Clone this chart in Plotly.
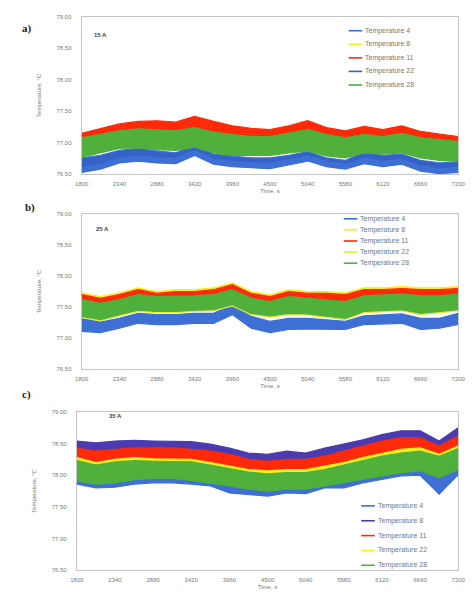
import plotly.graph_objects as go

# time axis (s) – 21 reading positions
time_s = [1800 + 270 * i for i in range(21)]
x_ticks = [1800, 2340, 2880, 3420, 3960, 4500, 5040, 5580, 6120, 6660, 7200]
y_ticks = [76.5, 77.0, 77.5, 78.0, 78.5, 79.0]
series_names = ["Temperature 4", "Temperature 8", "Temperature 11", "Temperature 22", "Temperature 28"]
panel_labels = ["a)", "b)", "c)"]
current_labels = ["15 A", "25 A", "35 A"]

# ---------- panel a (upper / lower envelopes of each sensor) ----------
a_t4_hi = [76.76, 76.80, 76.88, 76.91, 76.87, 76.84, 76.97, 76.82, 76.79, 76.76, 76.76, 76.80, 76.86, 76.76, 76.72, 76.86, 76.80, 76.82, 76.72, 76.68, 76.70]
a_t4_lo = [76.53, 76.58, 76.68, 76.71, 76.68, 76.67, 76.80, 76.66, 76.62, 76.60, 76.59, 76.65, 76.71, 76.62, 76.58, 76.67, 76.62, 76.66, 76.55, 76.51, 76.53]
a_t22_hi = [76.74, 76.78, 76.86, 76.89, 76.85, 76.82, 76.95, 76.80, 76.77, 76.74, 76.74, 76.78, 76.84, 76.74, 76.70, 76.84, 76.78, 76.80, 76.70, 76.66, 76.68]
a_t22_lo = [76.63, 76.68, 76.78, 76.81, 76.78, 76.77, 76.90, 76.76, 76.72, 76.70, 76.69, 76.75, 76.81, 76.72, 76.68, 76.77, 76.72, 76.76, 76.65, 76.61, 76.63]
a_t8_hi = [77.04, 77.10, 77.15, 77.18, 77.17, 77.15, 77.20, 77.13, 77.09, 77.06, 77.06, 77.11, 77.17, 77.09, 77.04, 77.09, 77.06, 77.11, 77.04, 77.01, 76.98]
a_t8_lo = [76.79, 76.86, 76.93, 76.94, 76.91, 76.90, 76.95, 76.86, 76.82, 76.82, 76.82, 76.86, 76.89, 76.81, 76.78, 76.86, 76.84, 76.86, 76.78, 76.74, 76.73]
a_t11_hi = [77.15, 77.23, 77.30, 77.34, 77.35, 77.33, 77.42, 77.34, 77.27, 77.23, 77.21, 77.27, 77.35, 77.24, 77.19, 77.26, 77.21, 77.27, 77.18, 77.14, 77.10]
a_t11_lo = [77.02, 77.08, 77.13, 77.16, 77.15, 77.13, 77.18, 77.11, 77.07, 77.04, 77.04, 77.09, 77.15, 77.07, 77.02, 77.07, 77.04, 77.09, 77.02, 76.99, 76.96]
a_t28_hi = [77.08, 77.14, 77.19, 77.22, 77.21, 77.19, 77.24, 77.17, 77.13, 77.10, 77.10, 77.15, 77.21, 77.13, 77.08, 77.13, 77.10, 77.15, 77.08, 77.05, 77.02]
a_t28_lo = [76.77, 76.84, 76.91, 76.92, 76.89, 76.88, 76.93, 76.84, 76.80, 76.80, 76.80, 76.84, 76.87, 76.79, 76.76, 76.84, 76.82, 76.84, 76.76, 76.72, 76.71]

# ---------- panel b ----------
b_t4_hi = [77.32, 77.26, 77.32, 77.40, 77.38, 77.38, 77.40, 77.40, 77.54, 77.35, 77.27, 77.32, 77.32, 77.29, 77.27, 77.36, 77.38, 77.39, 77.32, 77.32, 77.40]
b_t4_lo = [77.11, 77.09, 77.16, 77.24, 77.22, 77.22, 77.24, 77.24, 77.38, 77.16, 77.09, 77.14, 77.15, 77.14, 77.14, 77.22, 77.23, 77.24, 77.14, 77.16, 77.22]
b_t8_hi = [77.73, 77.67, 77.73, 77.81, 77.75, 77.78, 77.78, 77.81, 77.89, 77.75, 77.70, 77.78, 77.75, 77.75, 77.73, 77.81, 77.81, 77.83, 77.81, 77.81, 77.83]
b_t8_lo = [77.60, 77.54, 77.60, 77.68, 77.62, 77.65, 77.65, 77.68, 77.76, 77.62, 77.57, 77.65, 77.62, 77.62, 77.60, 77.68, 77.68, 77.70, 77.68, 77.68, 77.70]
b_t11_hi = [77.70, 77.64, 77.70, 77.78, 77.72, 77.75, 77.75, 77.78, 77.86, 77.72, 77.67, 77.75, 77.72, 77.72, 77.70, 77.78, 77.78, 77.80, 77.78, 77.78, 77.80]
b_t11_lo = [77.57, 77.51, 77.57, 77.65, 77.62, 77.62, 77.63, 77.65, 77.73, 77.59, 77.54, 77.62, 77.59, 77.57, 77.54, 77.63, 77.65, 77.66, 77.63, 77.63, 77.66]
b_t22_hi = [77.52, 77.46, 77.52, 77.60, 77.57, 77.57, 77.58, 77.60, 77.68, 77.54, 77.49, 77.57, 77.54, 77.52, 77.49, 77.58, 77.60, 77.61, 77.58, 77.58, 77.61]
b_t22_lo = [77.33, 77.28, 77.36, 77.43, 77.41, 77.41, 77.43, 77.44, 77.52, 77.38, 77.34, 77.38, 77.37, 77.33, 77.30, 77.41, 77.43, 77.44, 77.38, 77.41, 77.44]
b_t28_hi = [77.62, 77.56, 77.62, 77.70, 77.67, 77.67, 77.68, 77.70, 77.78, 77.64, 77.59, 77.67, 77.64, 77.62, 77.59, 77.68, 77.70, 77.71, 77.68, 77.68, 77.71]
b_t28_lo = [77.35, 77.30, 77.38, 77.45, 77.43, 77.43, 77.45, 77.46, 77.54, 77.40, 77.36, 77.40, 77.39, 77.35, 77.32, 77.43, 77.45, 77.46, 77.40, 77.43, 77.46]

# ---------- panel c ----------
c_t4_hi = [78.01, 77.96, 77.98, 78.03, 78.05, 78.05, 78.02, 77.98, 77.93, 77.88, 77.85, 77.88, 77.88, 77.93, 77.98, 78.03, 78.09, 78.14, 78.17, 78.06, 78.19]
c_t4_lo = [77.86, 77.80, 77.81, 77.86, 77.88, 77.88, 77.86, 77.83, 77.72, 77.70, 77.67, 77.72, 77.71, 77.80, 77.80, 77.88, 77.93, 77.99, 78.00, 77.70, 78.01]
c_t8_hi = [78.54, 78.51, 78.54, 78.55, 78.54, 78.54, 78.53, 78.49, 78.43, 78.35, 78.33, 78.38, 78.35, 78.43, 78.49, 78.56, 78.64, 78.70, 78.70, 78.54, 78.75]
c_t8_lo = [78.35, 78.30, 78.33, 78.35, 78.35, 78.35, 78.33, 78.30, 78.25, 78.17, 78.14, 78.17, 78.17, 78.22, 78.30, 78.38, 78.46, 78.51, 78.51, 78.38, 78.54]
c_t11_hi = [78.43, 78.38, 78.41, 78.43, 78.43, 78.43, 78.41, 78.38, 78.33, 78.25, 78.22, 78.25, 78.25, 78.30, 78.38, 78.46, 78.54, 78.59, 78.59, 78.46, 78.62]
c_t11_lo = [78.23, 78.15, 78.20, 78.23, 78.21, 78.21, 78.20, 78.15, 78.09, 78.04, 78.02, 78.04, 78.04, 78.09, 78.15, 78.23, 78.30, 78.36, 78.38, 78.28, 78.41]
c_t22_hi = [78.28, 78.20, 78.25, 78.28, 78.26, 78.26, 78.25, 78.20, 78.14, 78.09, 78.07, 78.09, 78.09, 78.14, 78.20, 78.28, 78.35, 78.41, 78.43, 78.33, 78.46]
c_t22_lo = [78.15, 78.08, 78.13, 78.15, 78.14, 78.14, 78.13, 78.08, 78.03, 77.97, 77.94, 77.96, 77.96, 78.01, 78.08, 78.15, 78.22, 78.27, 78.30, 78.22, 78.34]
c_t28_hi = [78.23, 78.16, 78.21, 78.23, 78.22, 78.22, 78.21, 78.16, 78.11, 78.05, 78.02, 78.04, 78.04, 78.09, 78.16, 78.23, 78.30, 78.35, 78.38, 78.30, 78.42]
c_t28_lo = [77.91, 77.86, 77.88, 77.93, 77.95, 77.95, 77.92, 77.88, 77.83, 77.78, 77.75, 77.78, 77.78, 77.83, 77.88, 77.93, 77.99, 78.04, 78.07, 77.96, 78.09]

BLUE = "#3d6fd4"
BLUE2 = "#3562c8"
PURPLE = "#4b3bb0"
RED = "#ff2a0a"
YEL = "#f3f020"
YEL2 = "#e2ee3a"
GREEN = "#4fb03c"

panels = [
    ([("Temperature 4", a_t4_hi, a_t4_lo, BLUE), ("Temperature 22", a_t22_hi, a_t22_lo, BLUE2),
      ("Temperature 8", a_t8_hi, a_t8_lo, YEL), ("Temperature 11", a_t11_hi, a_t11_lo, RED),
      ("Temperature 28", a_t28_hi, a_t28_lo, GREEN)],
     {"Temperature 4": BLUE, "Temperature 8": YEL, "Temperature 11": RED, "Temperature 22": BLUE2, "Temperature 28": GREEN}),
    ([("Temperature 4", b_t4_hi, b_t4_lo, BLUE), ("Temperature 8", b_t8_hi, b_t8_lo, YEL),
      ("Temperature 11", b_t11_hi, b_t11_lo, RED), ("Temperature 22", b_t22_hi, b_t22_lo, YEL2),
      ("Temperature 28", b_t28_hi, b_t28_lo, GREEN)],
     {"Temperature 4": BLUE, "Temperature 8": YEL, "Temperature 11": RED, "Temperature 22": YEL2, "Temperature 28": GREEN}),
    ([("Temperature 4", c_t4_hi, c_t4_lo, BLUE), ("Temperature 8", c_t8_hi, c_t8_lo, PURPLE),
      ("Temperature 11", c_t11_hi, c_t11_lo, RED), ("Temperature 22", c_t22_hi, c_t22_lo, YEL),
      ("Temperature 28", c_t28_hi, c_t28_lo, GREEN)],
     {"Temperature 4": BLUE, "Temperature 8": PURPLE, "Temperature 11": RED, "Temperature 22": YEL, "Temperature 28": GREEN}),
]

fig = go.Figure()
for p, (bands, legcols) in enumerate(panels):
    xa = "x" if p == 0 else f"x{p+1}"
    ya = "y" if p == 0 else f"y{p+1}"
    for name, hi, lo, col in bands:
        fig.add_trace(go.Scatter(x=time_s, y=lo, xaxis=xa, yaxis=ya, mode="lines",
                                 line=dict(color=col, width=1.2), showlegend=False, hoverinfo="skip"))
        fig.add_trace(go.Scatter(x=time_s, y=hi, xaxis=xa, yaxis=ya, mode="lines",
                                 line=dict(color=col, width=1.2), fill="tonexty", fillcolor=col,
                                 showlegend=False, hoverinfo="skip", name=name))

# layout
x_dom = [[77 / 474, 465 / 474], [77 / 474, 465 / 474], [72 / 474, 465 / 474]]
y_dom = [[1 - 173 / 599, 1 - 14 / 599], [1 - 370 / 599, 1 - 213 / 599], [1 - 573 / 599, 1 - 413 / 599]]
tickfont = dict(family="Liberation Sans", size=6, color="#7a7a7a")
titlefont = dict(family="Liberation Sans", size=6, color="#7a7a7a")
layout = dict(width=474, height=599, margin=dict(l=0, r=0, t=0, b=0),
              paper_bgcolor="white", plot_bgcolor="white", showlegend=False)
for p in range(3):
    sx = "" if p == 0 else str(p + 1)
    layout[f"xaxis{sx}"] = dict(domain=x_dom[p], anchor=f"y{sx}", range=[1800, 7200],
                                tickvals=x_ticks, ticktext=[str(v) for v in x_ticks],
                                tickfont=tickfont, showgrid=False, zeroline=False,
                                showline=True, linecolor="#c4c4c4", linewidth=1, mirror=True,
                                ticks="", ticklabelstandoff=4,
                                title=dict(text="Time, s", font=titlefont, standoff=2))
    layout[f"yaxis{sx}"] = dict(domain=y_dom[p], anchor=f"x{sx}", range=[76.5, 79.0],
                                tickvals=y_ticks, ticktext=[f"{v:.2f}" for v in y_ticks],
                                tickfont=tickfont, showgrid=False, zeroline=False,
                                showline=True, linecolor="#c4c4c4", linewidth=1, mirror=True,
                                ticks="", ticklabelstandoff=8,
                                title=dict(text="Temperature, °C", font=titlefont, standoff=14))
fig.update_layout(**layout)

# manual legends (entry y positions in pixels, line x start, spacing)
legend_geo = [(352, 28, 13.7), (347, 218, 11.2), (365, 508, 15.0)]
shapes = []
for p, (bands, legcols) in enumerate(panels):
    lx, ly, dy = legend_geo[p]
    for i, name in enumerate(series_names):
        yy = 1 - (ly + i * dy) / 599
        shapes.append(dict(type="line", xref="paper", yref="paper",
                           x0=lx / 474, x1=(lx + 14) / 474, y0=yy, y1=yy,
                           line=dict(color=legcols[name], width=1.6)))
        fig.add_annotation(x=(lx + 15) / 474, y=yy, xref="paper", yref="paper", xanchor="left",
                           yanchor="middle", text=name, showarrow=False,
                           font=dict(family="Liberation Sans", size=7, color="#777777"))
fig.update_layout(shapes=shapes)

label_pos = [(13, 17), (17, 207), (13, 404)]
inner_pos = [(88, 27), (90, 228), (103, 422)]
for p in range(3):
    fig.add_annotation(x=label_pos[p][0] / 474, y=1 - label_pos[p][1] / 599, xref="paper", yref="paper",
                       text=f"<b>{panel_labels[p]}</b>", showarrow=False,
                       font=dict(family="Liberation Serif", size=11, color="#222222"))
    fig.add_annotation(x=inner_pos[p][0] / 474, y=1 - inner_pos[p][1] / 599, xref="paper", yref="paper",
                       text=f"<b>{current_labels[p]}</b>", showarrow=False,
                       font=dict(family="Liberation Sans", size=6, color="#444444"))

fig.write_html("out.html")
